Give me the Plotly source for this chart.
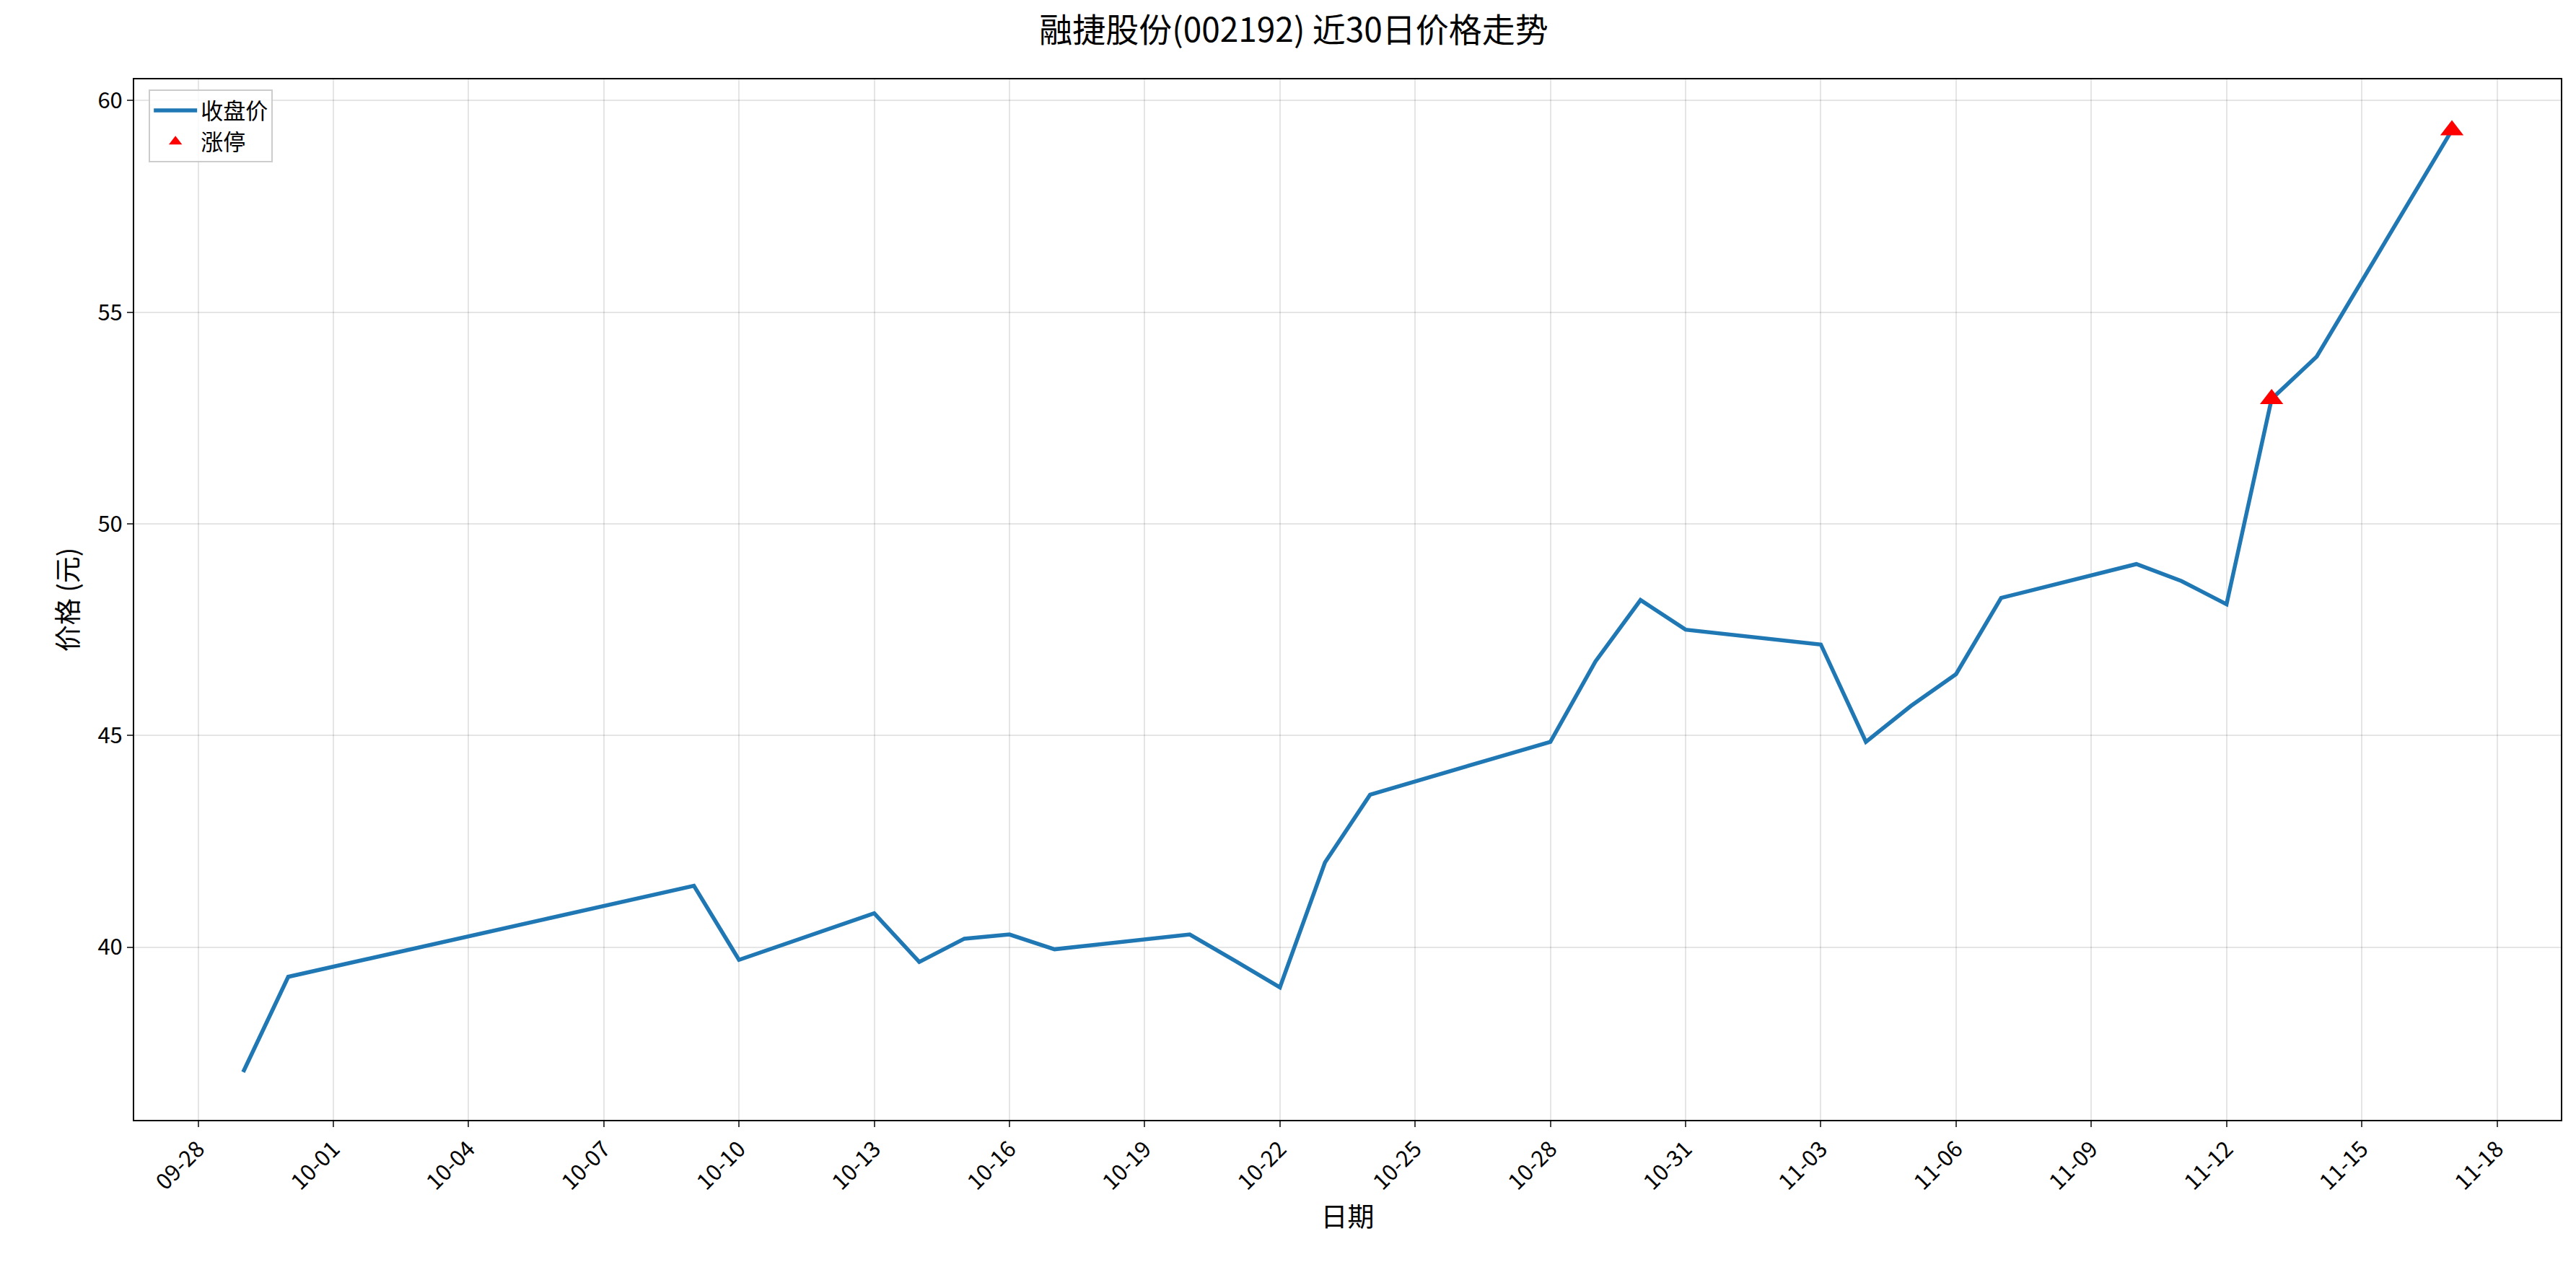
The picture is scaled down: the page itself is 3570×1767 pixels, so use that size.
import plotly.graph_objects as go

dates = ["2025-09-29","2025-09-30","2025-10-09","2025-10-10","2025-10-13","2025-10-14","2025-10-15","2025-10-16","2025-10-17","2025-10-20","2025-10-21","2025-10-22","2025-10-23","2025-10-24","2025-10-27","2025-10-28","2025-10-29","2025-10-30","2025-10-31","2025-11-03","2025-11-04","2025-11-05","2025-11-06","2025-11-07","2025-11-10","2025-11-11","2025-11-12","2025-11-13","2025-11-14","2025-11-17"]
close = [37.05,39.3,41.45,39.7,40.8,39.65,40.2,40.3,39.95,40.3,39.68,39.05,42.0,43.6,44.54,44.85,46.75,48.2,47.5,47.15,44.85,45.7,46.45,48.25,49.05,48.65,48.1,52.95,53.95,59.3]
limit_dates = ["2025-11-13","2025-11-17"]
limit_close = [52.95,59.3]
tick_dates = ["2025-09-28","2025-10-01","2025-10-04","2025-10-07","2025-10-10","2025-10-13","2025-10-16","2025-10-19","2025-10-22","2025-10-25","2025-10-28","2025-10-31","2025-11-03","2025-11-06","2025-11-09","2025-11-12","2025-11-15","2025-11-18"]
tick_text = [d[5:] for d in tick_dates]

FONT = "Noto Sans CJK SC, Liberation Sans, sans-serif"
fig = go.Figure()
fig.add_trace(go.Scatter(x=dates, y=close, mode="lines", name="收盘价",
                         line=dict(color="#1f77b4", width=5.5)))
fig.add_trace(go.Scatter(x=limit_dates, y=limit_close, mode="markers", name="涨停",
                         marker=dict(symbol="triangle-up", color="red", size=28)))
fig.update_layout(
    width=3570, height=1767, paper_bgcolor="white", plot_bgcolor="white",
    margin=dict(l=178, r=29, t=102, b=223),
    font=dict(family=FONT, size=31, color="black"),
    title=dict(text="融捷股份(002192) 近30日价格走势", x=0.5, xanchor="center", y=0.99, yanchor="top",
               font=dict(size=46)),
    legend=dict(x=0.006, y=0.99, xanchor="left", yanchor="top", bordercolor="#cccccc", borderwidth=2,
                bgcolor="rgba(255,255,255,0.8)", font=dict(size=31), itemwidth=60),
)
fig.update_xaxes(range=["2025-09-26 14:00", "2025-11-19 10:00"], tickvals=tick_dates, ticktext=tick_text,
                 tickangle=-45, showgrid=True, gridcolor="rgba(0,0,0,0.1)", gridwidth=2,
                 showline=True, linecolor="black", linewidth=2, mirror=True, ticks="outside",
                 ticklen=8, tickwidth=2, title=dict(text="日期", font=dict(size=37)))
fig.update_yaxes(range=[35.92, 60.5], tickvals=[40, 45, 50, 55, 60], showgrid=True,
                 gridcolor="rgba(0,0,0,0.1)", gridwidth=2, zeroline=False,
                 showline=True, linecolor="black", linewidth=2, mirror=True, ticks="outside",
                 ticklen=8, tickwidth=2, title=dict(text="价格 (元)", font=dict(size=37)))
fig.write_html("out.html")
